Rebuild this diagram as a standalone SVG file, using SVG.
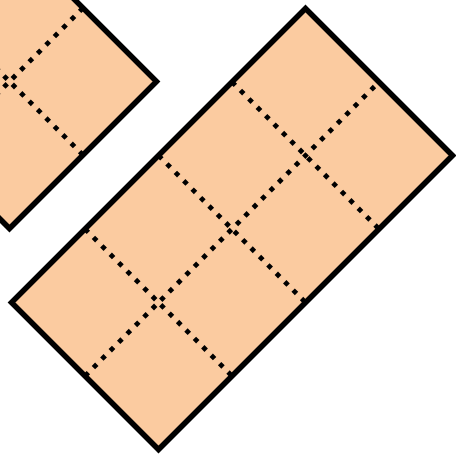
<svg xmlns="http://www.w3.org/2000/svg" width="456" height="457" viewBox="0 0 456 457">
  <style>
    .tile { fill: #FBCBA0; stroke: #000; stroke-width: 5.5; stroke-linejoin: miter; }
    .grid { fill: none; stroke: #000; stroke-width: 4.8; stroke-dasharray: 4.8 7.1; stroke-linecap: butt; }
  </style>
  <rect width="456" height="457" fill="#fff"/>
  <g id="small-rect">
    <polygon class="tile" points="156.5,81.5 9.5,228.5 -284.5,-65.5 -137.5,-212.5"/>
    <g id="small-grid">
      <line class="grid" x1="83" y1="155" x2="-211" y2="-139"/>
      <line class="grid" x1="83" y1="8" x2="-64" y2="155"/>
      <line class="grid" x1="9.5" y1="-65.5" x2="-137.5" y2="81.5"/>
    </g>
  </g>
  <g id="large-rect">
    <polygon class="tile" points="305.5,8.5 452.5,155.5 158.5,449.5 11.5,302.5"/>
    <g id="large-grid">
      <line class="grid" x1="85" y1="376" x2="379" y2="82"/>
      <line class="grid" x1="85" y1="229" x2="232" y2="376"/>
      <line class="grid" x1="158.5" y1="155.5" x2="305.5" y2="302.5"/>
      <line class="grid" x1="232" y1="82" x2="379" y2="229"/>
    </g>
  </g>
</svg>
